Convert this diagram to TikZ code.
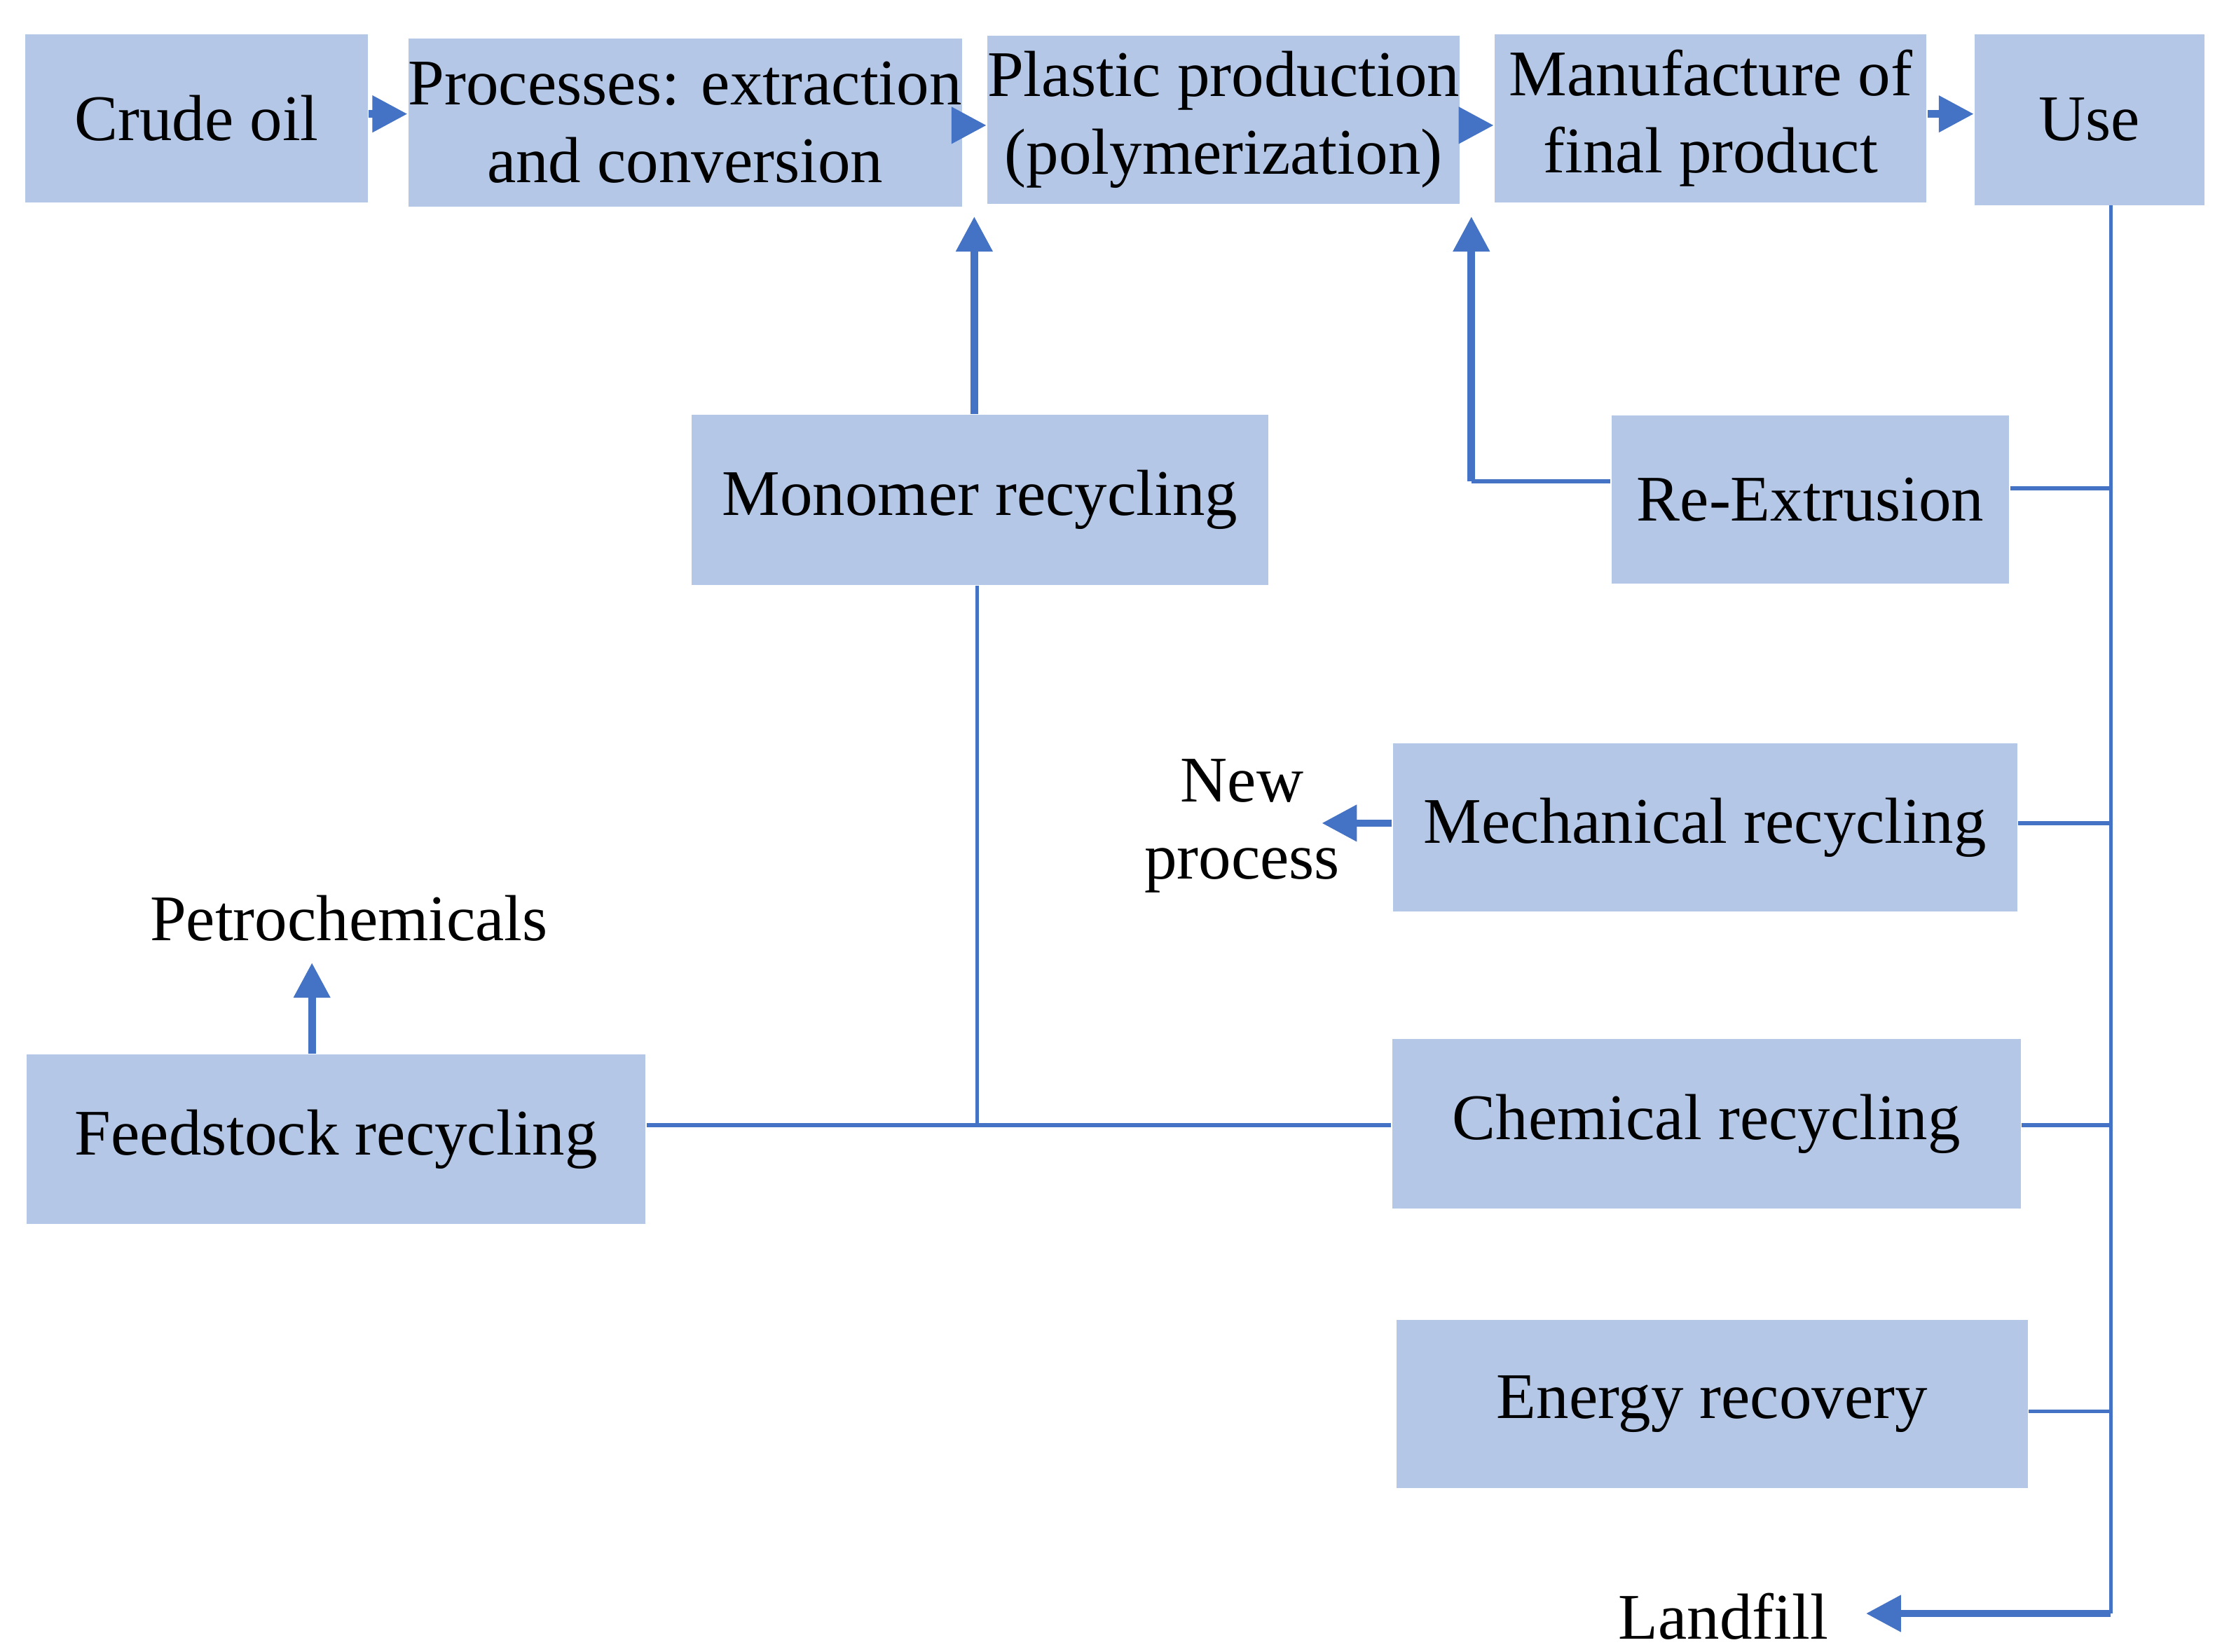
\documentclass[tikz,border=0pt]{standalone}
\usepackage{fontspec}
\setmainfont{Liberation Serif}
\usetikzlibrary{arrows.meta}
\definecolor{boxfill}{HTML}{B4C7E7}
\definecolor{flowline}{HTML}{4472C4}
\tikzset{%
  stage/.style={fill=boxfill, inner sep=0pt, align=center, font=\fontsize{13}{15.5}\selectfont},
  link/.style={draw=flowline, line width=0.8pt},
  flow/.style={draw=flowline, line width=1.5pt, -{Triangle[length=7pt,width=7pt]}},
  tag/.style={align=center, font=\fontsize{13}{15.5}\selectfont},
}
\begin{document}
\begin{tikzpicture}[x=0.01cm,y=-0.01cm]
  \useasboundingbox (0,0) rectangle (1560,1160);
  % top row
  \node[stage, minimum width=2.40cm, minimum height=1.18cm] (crude) at (138,83) {Crude oil};
  \node[stage, minimum width=3.88cm, minimum height=1.18cm] (proc) at (481,86) {Processes: extraction\\and conversion};
  \node[stage, minimum width=3.24cm, minimum height=1.18cm] (plastic) at (859,84) {Plastic production\\(polymerization)};
  \node[stage, minimum width=3.03cm, minimum height=1.18cm] (manuf) at (1201,83) {Manufacture of\\final product};
  \node[stage, minimum width=1.61cm, minimum height=1.20cm] (use) at (1467,84) {Use};
  % recycling routes
  \node[stage, minimum width=4.05cm, minimum height=1.19cm] (mono) at (688,351) {Monomer recycling};
  \node[stage, minimum width=2.79cm, minimum height=1.18cm] (rex) at (1271,351) {Re-Extrusion};
  \node[stage, minimum width=4.38cm, minimum height=1.18cm] (mech) at (1197,581) {Mechanical recycling};
  \node[stage, minimum width=4.41cm, minimum height=1.19cm] (chem) at (1198,789) {Chemical recycling};
  \node[stage, minimum width=4.43cm, minimum height=1.18cm] (energy) at (1202,986) {Energy recovery};
  \node[stage, minimum width=4.34cm, minimum height=1.19cm] (feed) at (236,800) {Feedstock recycling};
  % free labels
  \node[tag] (petro) at (245,645) {Petrochemicals};
  \node[tag] (newproc) at (872,580) {New\\process};
  \node[tag] (landfill) at (1210,1135) {Landfill};
  \coordinate (spine) at (1482,144);
  \coordinate (bottom) at (1482,1133);
  % main chain
  \draw[flow] (crude.east |- 0,80) -- (proc.west |- 0,80);
  \draw[flow] (proc.east |- 0,88) -- (plastic.west |- 0,88);
  \draw[flow] (plastic.east |- 0,88) -- (manuf.west |- 0,88);
  \draw[flow] (manuf.east |- 0,80) -- (use.west |- 0,80);
  % collection line
  \draw[link] (spine) -- (1482,1133);
  \draw[flow] (bottom) -- (1310,1133);
  \draw[link] (rex.east |- 0,343) -- (1482,343);
  \draw[link] (mech.east |- 0,578) -- (1482,578);
  \draw[link] (chem.east |- 0,790) -- (1482,790);
  \draw[link] (energy.east |- 0,991) -- (1482,991);
  % returns
  \draw[link] (rex.west |- 0,338) -- (1033,338);
  \draw[flow] (1033,338) -- (1033,152);
  \draw[flow] (mono.north -| 684,0) -- (684,152);
  \draw[link] (mono.south -| 686,0) -- (686,790);
  \draw[link] (chem.west |- 0,790) -- (feed.east |- 0,790);
  \draw[flow] (mech.west |- 0,578) -- (928,578);
  \draw[flow] (feed.north -| 219,0) -- (219,676);
\end{tikzpicture}
\end{document}
